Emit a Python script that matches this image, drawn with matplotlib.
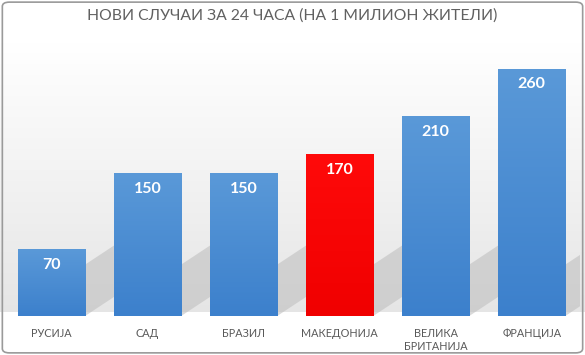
import matplotlib
matplotlib.use("Agg")
import matplotlib.pyplot as plt
import numpy as np
from matplotlib.patches import FancyBboxPatch, Polygon
from matplotlib.colors import LinearSegmentedColormap

title = "НОВИ СЛУЧАИ ЗА 24 ЧАСА (НА 1 МИЛИОН ЖИТЕЛИ)"
categories = ["РУСИЈА", "САД", "БРАЗИЛ", "МАКЕДОНИЈА", "ВЕЛИКА\nБРИТАНИЈА", "ФРАНЦИЈА"]
values = [70, 150, 150, 170, 210, 260]
highlight = "МАКЕДОНИЈА"

plt.rcParams['font.family'] = ['Lato', 'DejaVu Sans']

fig = plt.figure(figsize=(5.85, 3.55), dpi=100)

# background gradient (figure level)
bg = fig.add_axes([0, 0, 1, 1], zorder=-10)
bg.set_axis_off()
rows = np.linspace(0, 1, 100)
shade = np.where(rows < 0.12, 1.0, np.where(rows < 0.88, 1.0 - 0.10 * (rows - 0.12) / 0.76, 1.0))
bgimg = np.dstack([shade, shade, shade]).reshape(100, 1, 3)
bg.imshow(bgimg, aspect='auto', extent=[0, 1, 0, 1], origin='upper')
bg.set_xlim(0, 1)
bg.set_ylim(0, 1)
border = FancyBboxPatch((0.004, 0.006), 0.992, 0.988, boxstyle="round,pad=0,rounding_size=0.012",
                        transform=bg.transAxes, fill=False, edgecolor="#9a9a9a", linewidth=1.2)
bg.add_patch(border)

ax = fig.add_axes([0.006, 0.1099, 0.985, 0.7775])
ax.patch.set_alpha(0)
x = np.arange(len(values))
width = 0.7

blue_cmap = LinearSegmentedColormap.from_list("b", ["#3c80cc", "#5a99d8"])
red_cmap = LinearSegmentedColormap.from_list("r", ["#f00000", "#ff0a0a"])

bars = ax.bar(x, values, width=width, color="none", edgecolor="none", zorder=3)
for xi, b, cat, v in zip(x, bars, categories, values):
    # shadow
    x0 = b.get_x() + b.get_width()
    h = min(v, 60)
    shadow = Polygon([[x0, 0], [x0, h * 0.9], [x0 + 0.3, h * 0.9 + 20], [x0 + 0.3, 20]],
                     closed=True, facecolor="#c0c0c0", edgecolor="none", alpha=0.6, zorder=1)
    ax.add_patch(shadow)
    cmap = red_cmap if cat == highlight else blue_cmap
    g = np.linspace(0, 1, 256).reshape(-1, 1)
    im = ax.imshow(g, cmap=cmap, aspect='auto', origin='lower',
                   extent=[b.get_x(), b.get_x() + b.get_width(), 0, v], zorder=3)
    im.set_clip_path(b)
    ax.text(xi, v - 9, str(v), ha='center', va='top', color='white',
            fontsize=11.5, fontweight='bold', zorder=5)

ax.set_xlim(-0.5, len(values) - 0.5)
ax.set_ylim(0, 290)
ax.set_xticks(x)
ax.set_xticklabels(categories, fontsize=7.8, color="#595959", linespacing=1.15)
ax.tick_params(axis='x', length=0, pad=9)
ax.set_yticks([])
for s in ax.spines.values():
    s.set_visible(False)

fig.text(0.5, 0.957, title, ha='center', va='center', fontsize=11.3, color="#606060")

fig.savefig("out.png", dpi=100)
